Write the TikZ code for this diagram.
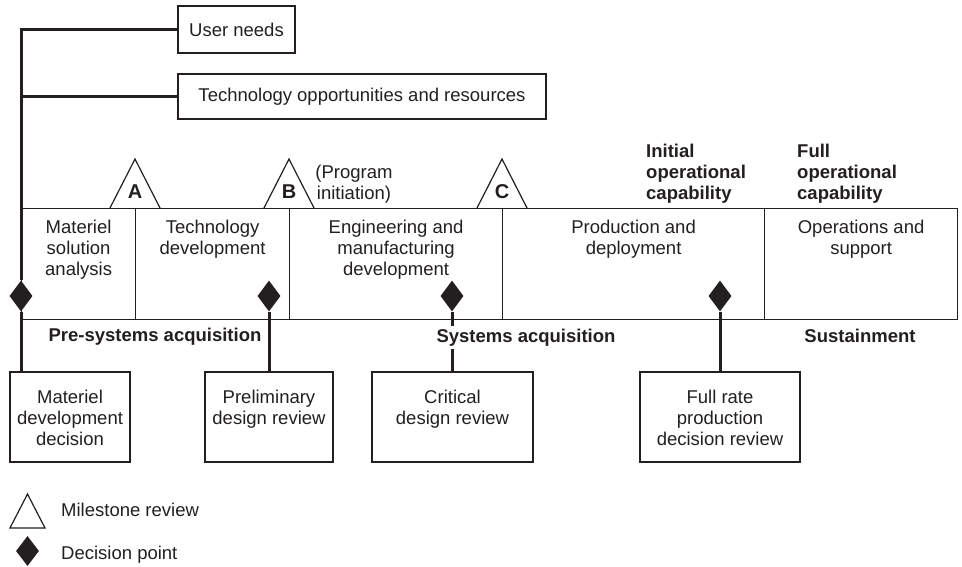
\documentclass[tikz,border=0pt]{standalone}
\usepackage{fontspec}
\setmainfont{Liberation Sans}
\usetikzlibrary{shapes.geometric}
\definecolor{ink}{RGB}{35,31,32}
\begin{document}
\begin{tikzpicture}[x=1pt,y=-1pt,
  every node/.style={text=ink, font=\fontsize{18.5}{21}\selectfont},
  boxstyle/.style={draw=ink, line width=1.2pt, inner sep=0pt},
  conn/.style={draw=ink, line width=3pt},
  dpoint/.style={diamond, fill=ink, inner sep=0pt, minimum width=23pt, minimum height=31pt},
  txt/.style={align=center, inner sep=0pt, anchor=north},
  boldtxt/.style={font=\fontsize{18.5}{21}\selectfont\bfseries, inner sep=0pt},
  letter/.style={font=\fontsize{20}{22}\selectfont\bfseries, inner sep=0pt},
]
\useasboundingbox (0,0) rectangle (962,566);

% top inputs
\node[boxstyle, minimum width=117pt, minimum height=47pt] (un) at (236.5,29.5) {User needs};
\node[boxstyle, minimum width=368pt, minimum height=45pt] (tor) at (362,96.5) {Technology opportunities and resources};

% phases
\node[boxstyle, anchor=north west, minimum width=114pt, minimum height=111pt] (msa) at (21,208) {};
\node[boxstyle, anchor=north west, minimum width=154pt, minimum height=111pt] (td) at (135,208) {};
\node[boxstyle, anchor=north west, minimum width=213pt, minimum height=111pt] (emd) at (289,208) {};
\node[boxstyle, anchor=north west, minimum width=262pt, minimum height=111pt] (pd) at (502,208) {};
\node[boxstyle, anchor=north west, minimum width=193pt, minimum height=111pt] (os) at (764,208) {};

\node[txt] (msat) at ([yshift=-11.5pt]msa.north) {Materiel\\solution\\analysis};
\node[txt] (tdt) at ([yshift=-11.5pt]td.north) {Technology\\development};
\node[txt] (emdt) at ([yshift=-11.5pt]emd.north) {Engineering and\\manufacturing\\development};
\node[txt] (pdt) at ([yshift=-11.5pt]pd.north) {Production and\\deployment};
\node[txt] (ost) at ([yshift=-11.5pt]os.north) {Operations and\\support};

% milestones
\draw[boxstyle] (110,208) -- (135,159) -- (160,208);
\draw[boxstyle] (264,208) -- (289,159) -- (314,208);
\draw[boxstyle] (477,208) -- (502,159) -- (527,208);
\node[letter] (ma) at (135,192) {A};
\node[letter] (mb) at (289,192) {B};
\node[letter] (mc) at (502,192) {C};
\node[txt] (pi) at (354,164.5) {(Program\\initiation)};
\node[boldtxt, align=left, anchor=north west] (ioc) at (646,143.5) {Initial\\operational\\capability};
\node[boldtxt, align=left, anchor=north west] (foc) at (797,143.5) {Full\\operational\\capability};

% decision boxes
\node[boxstyle, minimum width=120pt, minimum height=90pt] (mdd) at (70,417) {};
\node[boxstyle, minimum width=128pt, minimum height=90pt] (pdr) at (269,417) {};
\node[boxstyle, minimum width=161pt, minimum height=90pt] (cdr) at (452.5,417) {};
\node[boxstyle, minimum width=160pt, minimum height=90pt] (frp) at (720,417) {};
\node[txt] (mddt) at ([yshift=-18.5pt]mdd.north) {Materiel\\development\\decision};
\node[txt] (pdrt) at ([yshift=-18.5pt]pdr.north) {Preliminary\\design review};
\node[txt] (cdrt) at ([yshift=-18.5pt]cdr.north) {Critical\\design review};
\node[txt] (frpt) at ([yshift=-18.5pt]frp.north) {Full rate\\production\\decision review};

% decision points
\node[dpoint] (d1) at (21,296) {};
\node[dpoint] (d2) at (269,296) {};
\node[dpoint] (d3) at (452,296) {};
\node[dpoint] (d4) at (720,296) {};

% connectors
\draw[conn] (un.west) -| (d1.north);
\draw[conn] (tor.west) -- (tor.west -| d1.north);
\draw[conn] (d1.south) -- (d1.south |- mdd.north);
\draw[conn] (d2.south) -- (pdr.north);
\draw[conn] (d3.south) -- (d3.south |- cdr.north);
\draw[conn] (d4.south) -- (frp.north);

% section labels
\node[boldtxt, anchor=base] (pre) at (155,341.5) {Pre-systems acquisition};
\node[boldtxt, anchor=base, fill=white, inner sep=3pt] (sa) at (526,342.5) {Systems acquisition};
\node[boldtxt, anchor=base] (sus) at (860,342.5) {Sustainment};

% legend
\draw[boxstyle] (10,528) -- (27.5,494) -- (45,528) -- cycle;
\node[anchor=base west, inner sep=0pt] (lm) at (61,516.5) {Milestone review};
\node[dpoint, minimum height=30pt] (ld) at (27.5,551) {};
\node[anchor=base west, inner sep=0pt] (lp) at (61,559.5) {Decision point};
\end{tikzpicture}
\end{document}
